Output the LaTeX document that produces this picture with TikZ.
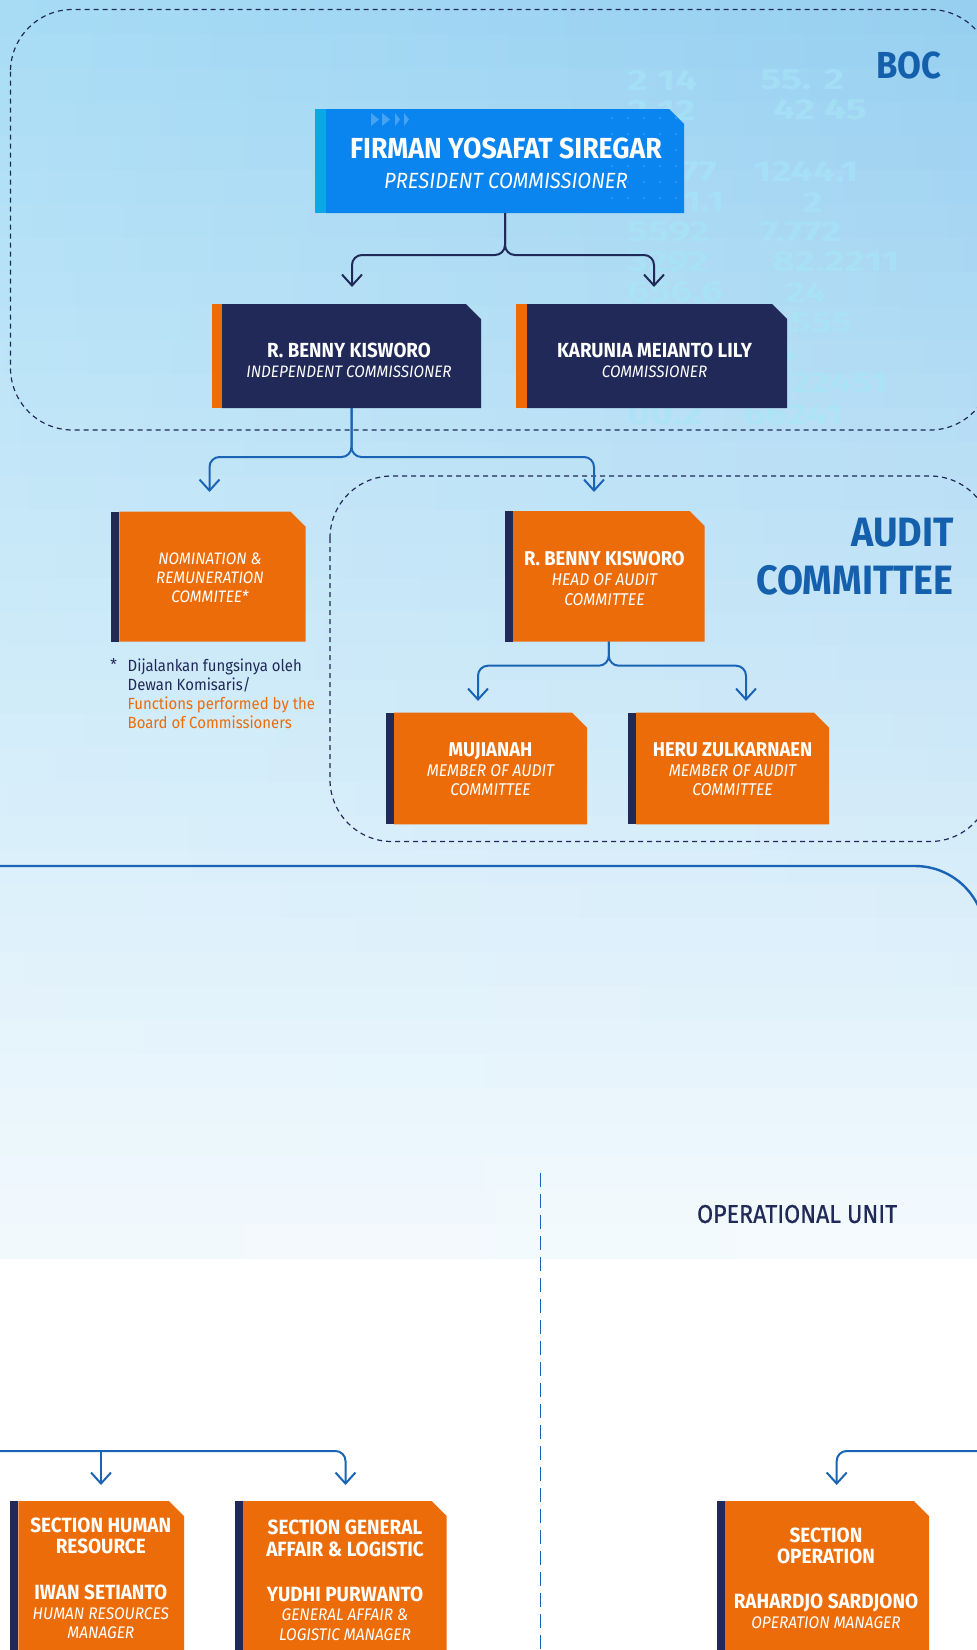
\documentclass[tikz,border=0pt]{standalone}
\usepackage{fontspec}
\usetikzlibrary{arrows.meta,calc,fit}
\newfontfamily\fir{Fira Sans}[FakeStretch=0.92]
\newfontfamily\firw{Fira Sans}[FakeStretch=1.35]
\newfontfamily\firm{Fira Sans}[FakeStretch=0.9, FakeBold=0.6]
\newcommand\FBd[2]{\fir\bfseries\fontsize{#1}{#2}\selectfont}
\newcommand\FIt[2]{\fir\itshape\fontsize{#1}{#2}\selectfont}
\newcommand\FRg[2]{\fir\fontsize{#1}{#2}\selectfont}
\definecolor{navy}{HTML}{202957}
\definecolor{bor}{HTML}{EC6C0A}
\definecolor{presblue}{HTML}{0A84EE}
\definecolor{presstripe}{HTML}{0BA8E8}
\definecolor{lineblue}{HTML}{1A64B6}
\definecolor{labelblue}{HTML}{1560AD}
\definecolor{cLa}{HTML}{A8DCF5}
\definecolor{cLb}{HTML}{F2F9FD}
\definecolor{cRa}{HTML}{97CFF0}
\definecolor{cRb}{HTML}{F4FAFE}
\definecolor{numc}{HTML}{A6E6F8}
\tikzset{
  conn/.style={line width=1pt, rounded corners=5pt, -{Straight Barb[length=5.5pt,width=10pt]}},
  dashbox/.style={draw=navy, line width=0.6pt, dash pattern=on 2.5pt off 2pt, rounded corners=31pt},
  txt/.style={text=white, align=center, inner sep=0pt},
  bgnum/.style={text=numc, text opacity=0.6, font=\firw\bfseries\fontsize{14.5}{15}\selectfont, anchor=west, inner sep=0pt},
  biglabel/.style={text=labelblue, inner sep=0pt}
}
% #1 name, #2 x1, #3 y1, #4 x2, #5 y2, #6 fill, #7 stripe colour, #8 stripe width
\newcommand\obox[8]{%
  \node[fit={(#2,#3)(#4,#5)}, inner sep=0pt, outer sep=0pt] (#1) {};
  \fill[#6] (#1.north west) -- ($(#1.north east)+(-15,0)$) -- ($(#1.north east)+(0,15)$) -- (#1.south east) -- (#1.south west) -- cycle;
  \fill[#7] ($(#1.north west)+(-#8,0)$) rectangle (#1.south west);
}
\begin{document}
\begin{tikzpicture}[x=0.5pt,y=-0.5pt]
\useasboundingbox (0,0) rectangle (977,1650);
\clip (0,0) rectangle (977,1650);
% background
\fill[white] (0,0) rectangle (977,1650);
\foreach \i in {0,...,36}{
  \pgfmathsetmacro\p{100*\i/36}
  \pgfmathsetmacro\ya{\i*34}
  \shade[left color=cLb!\p!cLa, right color=cRb!\p!cRa, shading=axis] (0,\ya) rectangle (977,\ya+34.6);
}
% faint numbers
\node[bgnum] (n0) at (627,80) {2 14};
\node[bgnum] (n1) at (760,80) {55. 2};
\node[bgnum] (n2) at (627,110) {2 12};
\node[bgnum] (n3) at (773,110) {42 45};
\node[bgnum] (n4) at (680,172) {77};
\node[bgnum] (n5) at (753,172) {1244.1};
\node[bgnum] (n6) at (663,202) {21.1};
\node[bgnum] (n7) at (802,202) {2};
\node[bgnum] (n8) at (627,232) {5592};
\node[bgnum] (n9) at (760,232) {7.772};
\node[bgnum] (n10) at (627,262) {3292};
\node[bgnum] (n11) at (772,262) {82.2211};
\node[bgnum] (n12) at (627,292) {656.6};
\node[bgnum] (n13) at (785,292) {24};
\node[bgnum] (n14) at (790,323) {555};
\node[bgnum] (n15) at (745,353) {2.4};
\node[bgnum] (n16) at (790,383) {22451};
\node[bgnum] (n17) at (627,415) {00.2};
\node[bgnum] (n18) at (743,415) {66241};
% dashed areas
\draw[dashbox] (10.5,9.5) rectangle (992,430);
\draw[dashbox] (330,476) rectangle (992,841.5);
% labels
\node[biglabel, anchor=east, font=\FBd{18.8}{20}] (boc) at (942,65) {BOC};
\node[biglabel, anchor=east, align=right, font=\FBd{20.5}{24}] (acl) at (954,557) {AUDIT\\COMMITTEE};
% boxes
\obox{pres}{326}{109}{684}{213}{presblue}{presstripe}{11}
\obox{cl}{222}{304}{481}{408}{navy}{bor}{10.5}
\obox{cr}{527}{304}{787}{408}{navy}{bor}{11}
\obox{nom}{119.3}{511.7}{305.7}{641.7}{bor}{navy}{8.3}
\obox{ah}{513}{511}{704.6}{641.7}{bor}{navy}{8}
\obox{muj}{394}{712.7}{587}{824.3}{bor}{navy}{7.6}
\obox{her}{636}{712.7}{829}{824.3}{bor}{navy}{8}
\obox{hr}{18.3}{1501}{184}{1700}{bor}{navy}{8.3}
\obox{ga}{243}{1501}{446.7}{1700}{bor}{navy}{7.7}
\obox{op}{725}{1501}{929}{1700}{bor}{navy}{8.3}
% president decoration
\foreach \xx/\ww in {371/8,382/8,395/5,404/5}{
  \fill[white, opacity=0.25] (\xx,113) -- (\xx+\ww,119.5) -- (\xx,126) -- cycle;
}
\foreach \xx in {612,628,644,660,676}{
  \foreach \yy in {118,134,150,166,182,198}{
    \fill[white, opacity=0.2] (\xx,\yy) circle (0.6pt);
  }
}
% texts
\node[txt, font=\fontsize{11}{15}\selectfont] (presT) at (506,163)
  {{\FBd{14.5}{15}FIRMAN YOSAFAT SIREGAR}\\{\FIt{11}{15}PRESIDENT COMMISSIONER}};
\node[txt, font=\fontsize{8.3}{10}\selectfont] (clT) at (349,360)
  {{\FBd{10.2}{10}R. BENNY KISWORO}\\{\FIt{8.3}{10}INDEPENDENT COMMISSIONER}};
\node[txt, font=\fontsize{8.3}{10}\selectfont] (crT) at (654.5,360)
  {{\FBd{10.2}{10}KARUNIA MEIANTO LILY}\\{\FIt{8.3}{10}COMMISSIONER}};
\node[txt, font=\FIt{8.3}{9.5}] (nomT) at (210,578)
  {NOMINATION \&\\REMUNERATION\\COMMITEE*};
\node[txt, font=\fontsize{8.5}{10}\selectfont] (ahT) at (604.4,578)
  {{\FBd{10}{10}R. BENNY KISWORO}\\{\FIt{8.5}{10}HEAD OF AUDIT}\\{\FIt{8.5}{10}COMMITTEE}};
\node[txt, font=\fontsize{8.5}{9.8}\selectfont] (mujT) at (490.5,769.5)
  {{\FBd{10}{10}MUJIANAH}\\{\FIt{8.5}{10}MEMBER OF AUDIT}\\{\FIt{8.5}{10}COMMITTEE}};
\node[txt, font=\fontsize{8.5}{9.8}\selectfont] (herT) at (732.5,769.5)
  {{\FBd{10}{10}HERU ZULKARNAEN}\\{\FIt{8.5}{10}MEMBER OF AUDIT}\\{\FIt{8.5}{10}COMMITTEE}};
% footnote
\node[anchor=base west, inner sep=0pt, text=navy, font=\FRg{8.1}{9.5}] (fstar) at (110,670) {*};
\node[anchor=north west, inner sep=0pt, align=left, font=\FRg{8.1}{9.5}] (fnote) at (127.3,658)
  {\textcolor{navy}{Dijalankan fungsinya oleh}\\\textcolor{navy}{Dewan Komisaris/}\\\textcolor{bor}{Functions performed by the}\\\textcolor{bor}{Board of Commissioners}};
% bottom texts
\node[txt, font=\FBd{10.3}{10.85}] (hrA) at (100.8,1535.8) {SECTION HUMAN\\RESOURCE};
\node[txt, font=\fontsize{8.4}{9.8}\selectfont] (hrB) at (100.8,1612)
  {{\FBd{10.3}{10}IWAN SETIANTO}\\{\FIt{8.4}{10}HUMAN RESOURCES}\\{\FIt{8.4}{10}MANAGER}};
\node[txt, font=\FBd{10.3}{11}] (gaA) at (345,1538.3) {SECTION GENERAL\\AFFAIR \& LOGISTIC};
\node[txt, font=\fontsize{8.4}{9.8}\selectfont] (gaB) at (345,1613.5)
  {{\FBd{10.3}{10}YUDHI PURWANTO}\\{\FIt{8.4}{10}GENERAL AFFAIR \&}\\{\FIt{8.4}{10}LOGISTIC MANAGER}};
\node[txt, font=\FBd{10.3}{10.85}] (opA) at (826,1545.9) {SECTION\\OPERATION};
\node[txt, font=\fontsize{8.4}{10}\selectfont] (opB) at (826,1611.7)
  {{\FBd{10.3}{10}RAHARDJO SARDJONO}\\{\FIt{8.4}{10}OPERATION MANAGER}};
\node[text=navy, inner sep=0pt, anchor=west, font=\firm\fontsize{12.9}{14}\selectfont] (ou) at (696.7,1214) {OPERATIONAL UNIT};
% connectors
\coordinate (t1) at (352,287);
\coordinate (t2) at (654,287);
\draw[conn, draw=navy] (pres.south) -- ++(0,42) -| (t1);
\draw[conn, draw=navy] (pres.south) -- ++(0,42) -| (t2);
\coordinate (t3) at (209.5,492);
\coordinate (t4) at (594,492);
\draw[conn, draw=lineblue] (cl.south) -- ++(0,49) -| (t3);
\draw[conn, draw=lineblue] (cl.south) -- ++(0,49) -| (t4);
\coordinate (t5) at (478,701);
\coordinate (t6) at (746,701);
\draw[conn, draw=lineblue] (ah.south) -- ++(0,24) -| (t5);
\draw[conn, draw=lineblue] (ah.south) -- ++(0,24) -| (t6);
\coordinate (la) at (-5,866);
\coordinate (lb) at (985,866);
\coordinate (lc) at (985,1000);
\draw[lineblue, line width=1.2pt, rounded corners=35pt] (la) -- (lb) -- (lc);
\coordinate (va) at (540.8,1173);
\coordinate (vb) at (540.8,1660);
\draw[lineblue, line width=0.6pt, dash pattern=on 7pt off 3.5pt] (va) -- (vb);
\coordinate (lin) at (-5,1451);
\coordinate (jhr) at (101,1451);
\coordinate (thr) at (101,1485);
\coordinate (tga) at (345.5,1485);
\draw[conn, draw=lineblue] (lin) -| (tga);
\draw[conn, draw=lineblue] (jhr) -- (thr);
\coordinate (rin) at (985,1451);
\coordinate (top) at (836.7,1485);
\draw[conn, draw=lineblue] (rin) -| (top);
\end{tikzpicture}
\end{document}
